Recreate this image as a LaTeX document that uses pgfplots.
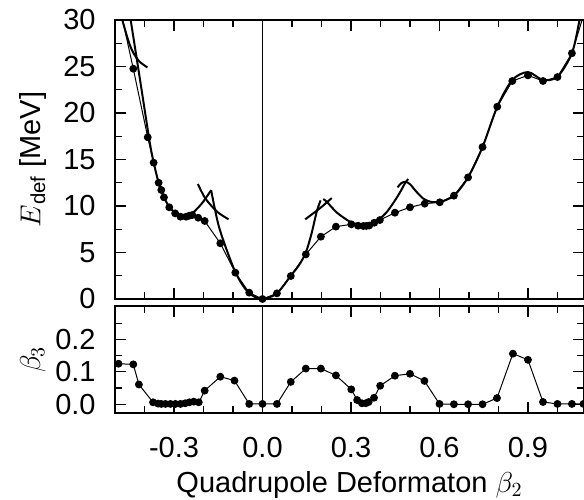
\documentclass[border=0pt]{standalone}
\usepackage{fontspec}
\setmainfont{Liberation Sans}
\usepackage{pgfplots}
\pgfplotsset{compat=1.18}

\begin{document}
\begin{tikzpicture}
\useasboundingbox (-57.5pt,-100pt) rectangle (234.5pt,149.5pt);
\pgfplotsset{
  common/.style={
    scale only axis, width=234.5pt,
    xmin=-0.5, xmax=1.09,
    axis line style={line width=0.8pt},
    every tick/.style={black, line width=0.6pt},
    major tick length=5.5pt, minor tick length=3.5pt,
    xtick={-0.3,0,0.3,0.6,0.9},
    minor xtick={-0.4,-0.2,-0.1,0.1,0.2,0.4,0.5,0.7,0.8,1.0},
    tick label style={font=\fontsize{14.5}{17}\selectfont},
    label style={font=\fontsize{14.5}{17}\selectfont},
    /pgf/number format/assume math mode=true,
    yticklabel style={anchor=east, inner sep=0pt, xshift=-9.5pt},
    ylabel style={at={(axis description cs:-0.175,0.5)}, anchor=center},
  },
  dots/.style={black, line width=0.5pt, mark=*, mark size=1.7pt, mark options={solid, fill=black}},
  thick/.style={black, line width=1pt, smooth, tension=0.5},
}

% ---------- top panel ----------
\begin{axis}[common, at={(0,0)}, anchor=south west, height=139.5pt,
  ymin=0, ymax=30, ytick={0,5,...,30}, minor ytick={2.5,7.5,...,27.5},
  xticklabels={},
  ylabel={$E$\textsubscript{def} [MeV]}]
\addplot[black, line width=0.5pt] coordinates {(0,0) (0,30)};
% thin line with dots
\addplot[dots] coordinates {
(-0.488,32.0) (-0.438,24.76) (-0.389,17.39) (-0.369,14.66) (-0.352,12.5)
(-0.343,11.72) (-0.334,10.93) (-0.316,9.86) (-0.296,9.21) (-0.278,8.85)
(-0.259,8.85) (-0.248,8.96) (-0.238,9.03) (-0.218,8.74) (-0.196,8.39)
(-0.143,5.99) (-0.092,2.83) (-0.045,0.68) (0,0) (0.049,0.61)
(0.096,2.47) (0.147,4.8) (0.198,6.7) (0.249,7.78) (0.301,8.03)
(0.324,7.88) (0.342,7.85) (0.352,7.86) (0.362,7.9) (0.379,8.2)
(0.398,8.49) (0.449,9.28) (0.5,9.86) (0.55,10.25) (0.601,10.4)
(0.649,11.11) (0.697,13.08) (0.746,16.34) (0.796,20.68) (0.847,23.44)
(0.9,24.05) (0.951,23.44) (1.0,23.87) (1.049,26.42) (1.098,31.5)
};
% thick curves
\addplot[thick] coordinates {
(-0.452,31) (-0.4465,29.93) (-0.415,23.55) (-0.383,17.0) (-0.369,14.7)
(-0.352,12.5) (-0.334,10.95) (-0.316,9.9) (-0.296,9.25) (-0.278,8.95)
(-0.259,8.95) (-0.24,9.15) (-0.216,9.9) (-0.2,10.5) (-0.174,11.7)
};
\addplot[thick] coordinates {
(-0.478,30.4) (-0.474,29.87) (-0.455,27.8) (-0.44,26.6) (-0.418,25.56) (-0.39,24.9)
};
\addplot[thick] coordinates {
(-0.219,12.37) (-0.194,10.83) (-0.154,9.39) (-0.115,8.57)
};
\addplot[thick] coordinates {
(-0.174,11.7) (-0.146,7.6) (-0.092,2.9) (-0.047,0.68) (0,0)
(0.049,0.62) (0.096,2.5) (0.125,3.7) (0.147,5.0) (0.166,7.0) (0.184,9.4) (0.197,10.6)
};
\addplot[thick] coordinates {
(0.145,8.57) (0.178,9.35) (0.206,10.05) (0.218,10.4) (0.235,10.85)
};
\addplot[thick] coordinates {
(0.206,10.75) (0.218,10.45) (0.25,9.35) (0.275,8.75) (0.297,8.3) (0.32,8.05)
(0.342,7.97) (0.362,8.05) (0.38,8.25) (0.398,8.65) (0.42,9.3) (0.443,10.3)
(0.465,11.4) (0.483,12.44) (0.494,12.9)
};
\addplot[thick] coordinates {
(0.458,12.0) (0.47,12.45) (0.485,12.6) (0.5,12.35) (0.52,11.6) (0.545,10.8)
(0.57,10.45) (0.601,10.4)
};
\addplot[thick] coordinates {
(0.601,10.4) (0.649,11.11) (0.697,13.08) (0.746,16.34) (0.796,20.68)
(0.847,23.55) (0.9,24.4) (0.951,23.55) (1.0,23.9) (1.049,26.42) (1.075,30) (1.085,31.5)
};
\end{axis}

% ---------- bottom panel ----------
\begin{axis}[common, at={(0,-57pt)}, anchor=south west, height=53.5pt,
  ymin=-0.027, ymax=0.303, ytick={0,0.1,0.2}, yticklabels={0.0,0.1,0.2},
  minor ytick={0.05,0.15,0.25},
  xticklabels={-0.3,0.0,0.3,0.6,0.9},
  xticklabel style={anchor=base, yshift=-22pt},
  xlabel={Quadrupole Deformaton $\beta_2$},
  xlabel style={at={(axis description cs:0.5,-0.74)}, anchor=base},
  ylabel={$\beta_3$}]
\addplot[black, line width=0.5pt] coordinates {(0,-0.027) (0,0.303)};
\addplot[dots] coordinates {
(-0.488,0.125) (-0.438,0.123) (-0.419,0.061) (-0.371,0.006) (-0.354,0.002)
(-0.343,0.001) (-0.329,0.001) (-0.312,0.001) (-0.295,0.001) (-0.278,0.001)
(-0.262,0.003) (-0.248,0.006) (-0.233,0.008) (-0.216,0.006) (-0.196,0.042)
(-0.143,0.085) (-0.095,0.073) (-0.045,0.001) (0,0.001) (0.049,0.001)
(0.096,0.069) (0.147,0.110) (0.198,0.110) (0.249,0.089) (0.301,0.046)
(0.321,0.013) (0.337,0.003) (0.350,0.003) (0.360,0.007) (0.378,0.020)
(0.399,0.057) (0.449,0.088) (0.500,0.094) (0.549,0.072) (0.600,0.001)
(0.649,0.000) (0.697,0.000) (0.746,0.000) (0.795,0.019) (0.849,0.156)
(0.900,0.137) (0.951,0.007) (1.000,0.001) (1.049,0.001) (1.088,0.001)
};
\end{axis}
\end{tikzpicture}
\end{document}
